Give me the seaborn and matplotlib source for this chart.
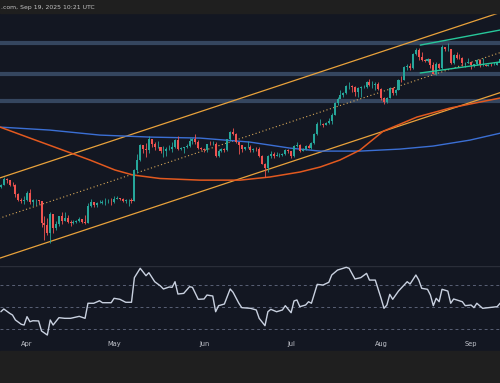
import numpy as np
import pandas as pd
import seaborn as sns
import matplotlib
matplotlib.use("Agg")
import matplotlib.pyplot as plt
import matplotlib.dates as mdates
from matplotlib.patches import Rectangle
from matplotlib.ticker import NullLocator

sns.set_theme(style="dark")
plt.rcParams['font.family'] = ['DejaVu Sans']

# daily candles from 2025-03-22, open = previous close
start = "2025-03-22"
first_open = 1966
closes = [1983, 2005, 2080, 2066, 2010, 2003, 1896, 1827, 1805, 1822,
          1906, 1796, 1816, 1816, 1806, 1578, 1553, 1474, 1666, 1522,
          1567, 1643, 1594, 1623, 1587, 1577, 1583, 1589, 1613, 1587,
          1578, 1757, 1795, 1768, 1786, 1792, 1794, 1798, 1799, 1793,
          1838, 1843, 1834, 1809, 1816, 1816, 1811, 2208, 2346, 2582,
          2513, 2497, 2680, 2608, 2545, 2546, 2481, 2495, 2526, 2527,
          2554, 2664, 2528, 2530, 2549, 2566, 2658, 2682, 2633, 2533,
          2528, 2508, 2605, 2594, 2609, 2416, 2482, 2525, 2508, 2679,
          2816, 2772, 2642, 2579, 2526, 2547, 2548, 2510, 2525, 2524,
          2406, 2297, 2228, 2410, 2445, 2418, 2420, 2425, 2435, 2500,
          2486, 2405, 2568, 2589, 2495, 2517, 2573, 2541, 2612, 2770,
          2952, 2958, 2944, 2972, 3013, 3139, 3377, 3475, 3546, 3593,
          3756, 3762, 3746, 3628, 3706, 3746, 3749, 3869, 3796, 3796,
          3809, 3697, 3481, 3395, 3491, 3719, 3609, 3679, 3911, 3905,
          4255, 4265, 4227, 4611, 4740, 4540, 4436, 4416, 4480, 4308,
          4076, 4337, 4223, 4818, 4770, 4778, 4364, 4594, 4512, 4504,
          4366, 4368, 4391, 4297, 4325, 4449, 4294, 4306, 4275, 4310,
          4305, 4311, 4349, 4457, 4713]
highs = [2016, 2020, 2104, 2094, 2068, 2040, 2016, 1908, 1848, 1866,
         1930, 1953, 1830, 1830, 1820, 1815, 1640, 1620, 1690, 1670,
         1594, 1650, 1690, 1690, 1660, 1605, 1600, 1600, 1636, 1616,
         1660, 1785, 1830, 1800, 1804, 1827, 1820, 1840, 1835, 1840,
         1870, 1868, 1846, 1845, 1835, 1828, 1845, 2215, 2440, 2600,
         2590, 2620, 2738, 2690, 2630, 2646, 2550, 2568, 2550, 2580,
         2640, 2688, 2736, 2560, 2550, 2610, 2700, 2700, 2780, 2676,
         2547, 2540, 2610, 2650, 2660, 2630, 2520, 2540, 2535, 2690,
         2830, 2880, 2790, 2640, 2590, 2560, 2660, 2590, 2535, 2555,
         2550, 2430, 2300, 2430, 2490, 2475, 2480, 2450, 2450, 2520,
         2525, 2495, 2590, 2640, 2595, 2530, 2590, 2600, 2630, 2790,
         2990, 3045, 2980, 3000, 3080, 3160, 3390, 3520, 3680, 3620,
         3790, 3860, 3780, 3760, 3740, 3760, 3780, 3880, 3941, 3880,
         3860, 3870, 3720, 3510, 3510, 3740, 3730, 3690, 3930, 4010,
         4280, 4330, 4370, 4640, 4788, 4785, 4680, 4480, 4500, 4480,
         4380, 4380, 4350, 4885, 4830, 4956, 4780, 4630, 4680, 4620,
         4520, 4390, 4490, 4400, 4340, 4480, 4480, 4490, 4320, 4330,
         4370, 4380, 4390, 4470, 4720]
lows = [1975, 1970, 2001, 2030, 1988, 1993, 1862, 1810, 1790, 1770,
        1810, 1780, 1750, 1760, 1780, 1536, 1412, 1460, 1385, 1472,
        1505, 1545, 1566, 1590, 1575, 1540, 1565, 1575, 1582, 1570,
        1565, 1570, 1740, 1742, 1745, 1783, 1780, 1760, 1790, 1760,
        1790, 1830, 1827, 1797, 1785, 1755, 1785, 1808, 2170, 2330,
        2460, 2396, 2450, 2550, 2508, 2530, 2452, 2400, 2410, 2500,
        2474, 2540, 2500, 2500, 2460, 2544, 2550, 2600, 2610, 2520,
        2500, 2480, 2475, 2585, 2580, 2390, 2395, 2475, 2480, 2490,
        2660, 2750, 2620, 2440, 2480, 2500, 2530, 2480, 2470, 2490,
        2390, 2290, 2111, 2180, 2380, 2375, 2410, 2390, 2410, 2420,
        2450, 2385, 2400, 2555, 2475, 2490, 2510, 2530, 2520, 2600,
        2760, 2935, 2900, 2935, 2960, 2960, 3120, 3330, 3510, 3500,
        3580, 3700, 3620, 3530, 3500, 3520, 3710, 3720, 3770, 3720,
        3680, 3680, 3450, 3355, 3370, 3480, 3550, 3560, 3660, 3850,
        3900, 4165, 4180, 4200, 4580, 4450, 4420, 4380, 4400, 4225,
        4060, 4050, 4200, 4200, 4705, 4710, 4340, 4320, 4480, 4480,
        4280, 4260, 4360, 4200, 4260, 4300, 4260, 4275, 4270, 4270,
        4280, 4290, 4300, 4340, 4440]

# moving averages (day offset from start, price)
ma200_days = [0.7, 17.9, 35.1, 52.4, 69.6, 86.8, 100.6, 111, 124.7, 138.5, 149.9, 162.6, 173]
ma200_vals = [2898, 2843, 2754, 2719, 2702, 2634, 2535, 2487, 2487, 2519, 2568, 2667, 2787]
ma100_days = [0.7, 11.0, 21.4, 31.7, 40.3, 46.5, 55.8, 69.6, 83.4, 93.7, 104.1, 111, 117.8,
              124.7, 132.7, 144.4, 155.8, 173]
ma100_vals = [2898, 2702, 2519, 2349, 2205, 2136, 2089, 2067, 2067, 2109, 2177, 2247, 2349,
              2502, 2822, 3090, 3272, 3487]

# ascending channel and flag
channel_days = [0, 175]
channel_upper = [2088, 6085]
channel_mid = [1617, 4713]
channel_lower = [1253, 3653]
flag_days = [145.5, 173]
flag_upper = [4885, 5377]
flag_lower = [4090, 4387]
levels = [4950, 4063, 3419]

# RSI
rsi_days = [1, 2, 4, 5, 6, 8, 9, 10, 11, 12, 14, 15, 17, 18, 19, 21, 23, 25, 28, 30,
            31, 33, 35, 36, 39, 40, 42, 44, 46, 47, 49, 51, 52, 54, 56, 57, 59, 60, 61, 62,
            64, 66, 67, 69, 71, 72, 74, 75, 76, 78, 80, 81, 83, 84, 87,
            89, 90, 92, 93, 94, 96, 98, 99, 101, 102, 103, 104, 106, 107, 108, 110, 112, 114,
            115, 117, 120, 121, 123, 125, 127, 128, 130, 132, 133, 134, 135, 136, 138, 141,
            142, 144, 145, 146, 148, 149, 150, 151, 152, 153, 155, 156, 157, 160, 161, 163,
            164, 165, 167, 169, 172, 173]
rsi_vals = [45.7, 48.2, 44.3, 42.7, 38.2, 34.3, 33.6, 41.2, 36.6, 37.5,
            37.3, 28.2, 24.5, 38.2, 33.6, 40.3, 39.7, 39.7, 41.5, 39.7,
            53.4, 53.4, 55.7, 53.9, 53.9, 57.9, 57.0, 54.3, 54.3, 76.7,
            85.2, 78.5, 81.2, 73.0, 69.1, 66.4, 68.2, 67.9, 73.0, 61.8,
            62.4, 68.5, 67.9, 57.0, 57.3, 60.9, 60.0, 45.7, 51.2, 52.7,
            66.4, 63.4, 53.4, 49.4, 48.8,
            47.3, 39.7, 33.0, 45.7, 47.9, 45.7, 47.3, 51.2, 44.8, 55.5,
            56.4, 50.3, 51.8, 54.8, 53.4, 70.6, 70.0, 72.5, 79.1, 83.6,
            86.1, 85.2, 75.5, 76.7, 80.6, 74.5, 74.5, 57.9, 48.8, 51.8,
            61.5, 57.0, 64.5, 73.0, 70.9, 79.1, 74.5, 67.0, 66.1, 60.9,
            51.2, 57.9, 54.8, 66.1, 64.5, 53.4, 57.3, 54.8, 51.2, 51.8,
            49.4, 53.4, 48.8, 49.4, 50.3, 53.4]

month_starts = ["2025-04-01", "2025-05-01", "2025-06-01", "2025-07-01", "2025-08-01", "2025-09-01"]
month_labels = ["Apr", "May", "Jun", "Jul", "Aug", "Sep"]

bg = "#131722"
strip = "#1f1f1f"
green = "#26a69a"
red = "#ef5350"

t0 = pd.Timestamp(start)
def days_to_num(d):
    return mdates.date2num(t0 + pd.to_timedelta(np.asarray(d, dtype=float), unit="D"))

df = pd.DataFrame({"date": pd.date_range(start, periods=len(closes)),
                   "close": closes, "high": highs, "low": lows})
df["open"] = [first_open] + closes[:-1]
df["x"] = mdates.date2num(df["date"])
up = df["close"] >= df["open"]
cols = np.where(up, green, red)

W, H = 500, 383
fig = plt.figure(figsize=(5, 3.83), dpi=100, facecolor=bg)
fig.patches.append(Rectangle((0, 1 - 13 / H), 1, 13 / H, transform=fig.transFigure,
                             color=strip, zorder=0))
fig.patches.append(Rectangle((0, 0), 1, 32 / H, transform=fig.transFigure,
                             color=strip, zorder=0))

ax = fig.add_axes([0, 1 - 265 / H, 1, 252 / H])
axr = fig.add_axes([0, 1 - 338 / H, 1, 72 / H], sharex=ax)
for a in (ax, axr):
    a.set_facecolor(bg)
    for s in a.spines.values():
        s.set_visible(False)
    a.grid(False)
    a.tick_params(length=0)

ax.set_yscale("log")
ax.set_ylim(1204, 5993)
ax.set_xlim(days_to_num(0.69), days_to_num(172.98))

# horizontal zones
for lv in levels:
    ax.axhline(lv, color="#35465f", lw=3.0, zorder=1)

# channel
cx = days_to_num(channel_days)
ax.plot(cx, channel_upper, color="#e9a23b", lw=0.9, zorder=2)
ax.plot(cx, channel_lower, color="#e9a23b", lw=0.9, zorder=2)
ax.plot(cx, channel_mid, color="#d9a95a", lw=0.8, ls=(0, (1, 2.2)), zorder=2)

# moving averages
sns.lineplot(x=days_to_num(ma200_days), y=ma200_vals, ax=ax, color="#3b6fd4", lw=1.0, zorder=3)
sns.lineplot(x=days_to_num(ma100_days), y=ma100_vals, ax=ax, color="#e2591f", lw=1.1, zorder=3)

# candles
ax.vlines(df["x"], df["low"], df["high"], color=cols, lw=0.6, zorder=4)
ax.bar(df["x"], (df["close"] - df["open"]).abs(), bottom=np.minimum(df["open"], df["close"]),
       width=0.7, color=cols, lw=0, zorder=5)

# flag lines
fx = days_to_num(flag_days)
ax.plot(fx, flag_upper, color="#27c79a", lw=1.0, zorder=6)
ax.plot(fx, flag_lower, color="#27c79a", lw=1.0, zorder=6)

ax.set_xticks([])
ax.yaxis.set_major_locator(NullLocator())
ax.yaxis.set_minor_locator(NullLocator())
ax.set_xlabel("")
ax.set_ylabel("")

# RSI pane
axr.set_ylim(21.8, 87.3)
for lv in (70, 50, 30):
    axr.axhline(lv, color="#5a6176", lw=0.7, ls=(0, (3, 3)))
axr.axhline(87.3, color="#2a2e39", lw=1.0)
sns.lineplot(x=days_to_num(rsi_days), y=rsi_vals, ax=axr, color="#c9d1e0", lw=1.0)
axr.set_yticks([])
axr.set_ylabel("")
axr.set_xticks(mdates.date2num(pd.to_datetime(month_starts)))
axr.set_xticklabels(month_labels, color="#c0c3cb", fontsize=4.8)
axr.tick_params(axis="x", pad=2.3, length=0)
axr.set_xlim(days_to_num(0.69), days_to_num(172.98))

fig.text(1 / W, 1 - 7 / H, ".com, Sep 19, 2025 10:21 UTC", ha="left", va="center",
         color="#c4c4c4", fontsize=4.4)

fig.savefig("out.png", dpi=100, facecolor=bg)
